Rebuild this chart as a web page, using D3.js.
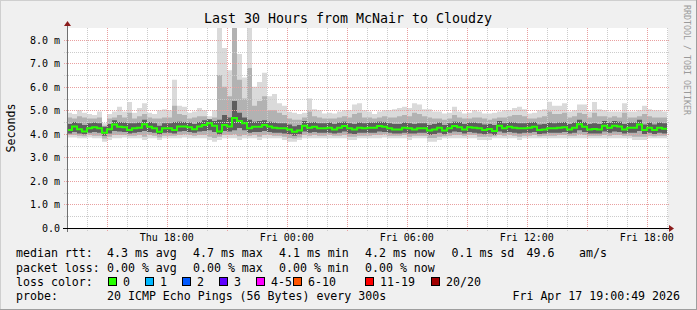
<!DOCTYPE html>
<html>
<head>
<meta charset="utf-8">
<script src="https://cdn.jsdelivr.net/npm/d3@7"></script>
<style>
  body { margin: 0; background: #f0f0f0; }
  svg text { font-family: "DejaVu Sans Mono", monospace; fill: #000; }
</style>
</head>
<body>
<div id="chart"></div>
<script>
// Time window of the graph (30 hours, one sample every 15 minutes below)
const startTime = new Date(2026, 3, 16, 13, 0, 49);
const endTime = new Date(2026, 3, 17, 19, 0, 49);
const stepMinutes = 15;

// Round trip times in ms
const median = [
  4.17,4.31,4.20,4.10,4.24,4.28,4.24,4.05,4.20,4.40,
  4.30,4.28,4.17,4.24,4.26,4.41,4.30,4.24,4.09,4.24,
  4.24,4.17,4.31,4.31,4.28,4.20,4.31,4.38,4.45,4.35,
  4.10,4.38,4.31,4.68,4.55,4.45,4.24,4.30,4.30,4.38,
  4.31,4.26,4.24,4.24,4.19,4.09,4.14,4.35,4.26,4.30,
  4.24,4.24,4.26,4.19,4.26,4.33,4.24,4.19,4.26,4.24,
  4.26,4.26,4.33,4.30,4.24,4.19,4.19,4.26,4.24,4.19,
  4.24,4.24,4.14,4.19,4.26,4.14,4.24,4.33,4.28,4.19,
  4.28,4.26,4.24,4.17,4.21,4.12,4.35,4.24,4.30,4.26,
  4.24,4.24,4.26,4.30,4.17,4.19,4.24,4.24,4.26,4.28,
  4.19,4.26,4.41,4.30,4.19,4.21,4.19,4.35,4.26,4.35,
  4.31,4.19,4.26,4.26,4.40,4.17,4.26,4.17,4.26,4.22];

// slowest ping of each sample
const pingMax = [
  4.90,4.85,5.00,4.90,4.85,4.80,4.95,4.45,4.85,4.95,
  5.15,4.95,5.35,4.90,5.10,5.30,4.90,4.85,5.00,5.05,
  5.00,6.30,5.20,5.15,4.90,4.95,5.10,5.00,4.75,5.00,
  8.60,7.65,6.70,8.60,7.40,6.40,8.60,6.00,6.20,6.60,
  5.60,5.70,5.30,5.20,4.94,4.90,4.85,4.90,5.50,5.05,
  5.00,4.87,4.90,4.87,4.95,5.00,5.00,5.25,5.30,5.00,
  4.95,4.85,4.95,5.00,5.00,5.05,5.10,5.15,5.10,5.30,
  5.25,5.05,5.05,4.95,4.95,4.87,4.90,5.15,4.95,4.87,
  4.90,5.00,4.95,4.87,4.87,4.90,4.95,5.00,5.00,5.10,
  5.15,5.05,4.87,4.90,5.00,5.05,5.37,5.20,5.20,5.30,
  4.95,5.00,5.25,5.25,4.95,5.35,5.05,5.00,4.95,4.95,
  4.95,5.30,4.95,4.95,5.00,5.20,5.05,5.00,5.00,4.95];

// fastest ping of each sample
const pingMin = [
  3.85,3.85,3.81,3.81,3.85,3.81,3.81,3.67,3.74,3.81,
  3.81,3.85,3.81,3.81,3.81,3.74,3.81,3.81,3.74,3.81,
  3.81,3.81,3.81,3.85,3.81,3.81,3.81,3.81,3.74,3.67,
  3.74,3.81,3.81,3.81,3.74,3.81,3.81,3.81,3.74,3.81,
  3.81,3.81,3.81,3.74,3.67,3.67,3.74,3.81,3.81,3.81,
  3.81,3.81,3.81,3.81,3.81,3.81,3.74,3.74,3.81,3.81,
  3.81,3.81,3.81,3.85,3.81,3.81,3.81,3.81,3.74,3.81,
  3.81,3.81,3.67,3.67,3.74,3.81,3.81,3.81,3.81,3.81,
  3.81,3.81,3.74,3.74,3.74,3.81,3.81,3.81,3.81,3.81,
  3.74,3.81,3.81,3.81,3.81,3.81,3.81,3.81,3.81,3.81,
  3.81,3.81,3.81,3.81,3.81,3.81,3.81,3.81,3.81,3.81,
  3.81,3.81,3.81,3.74,3.74,3.74,3.81,3.81,3.81,3.81];

// edges of the medium grey smoke
const midHigh = [
  4.70,4.65,4.75,4.70,4.65,4.65,4.70,4.35,4.65,4.70,
  4.80,4.70,4.90,4.65,4.75,4.85,4.70,4.65,4.65,4.70,
  4.70,5.20,4.85,4.80,4.65,4.70,4.75,4.75,4.60,4.70,
  6.50,6.00,5.60,8.60,6.30,5.50,6.80,5.20,5.40,5.60,
  5.00,5.00,4.90,4.80,4.65,4.60,4.60,4.70,4.95,4.75,
  4.70,4.65,4.65,4.65,4.70,4.75,4.70,4.85,4.90,4.70,
  4.70,4.65,4.70,4.75,4.70,4.70,4.75,4.80,4.75,4.90,
  4.85,4.75,4.70,4.65,4.65,4.60,4.65,4.80,4.70,4.65,
  4.65,4.70,4.70,4.65,4.60,4.65,4.70,4.70,4.75,4.80,
  4.80,4.75,4.65,4.65,4.70,4.75,4.95,4.85,4.85,4.90,
  4.70,4.75,4.90,4.85,4.70,4.90,4.75,4.75,4.70,4.75,
  4.70,4.90,4.70,4.70,4.75,4.85,4.75,4.70,4.70,4.70];

const midLow = [
  3.95,3.95,3.92,3.90,3.95,3.92,3.92,3.80,3.88,3.95,
  3.95,3.95,3.92,3.92,3.95,3.88,3.95,3.92,3.85,3.92,
  3.92,3.92,3.95,3.98,3.95,3.92,3.95,3.95,3.88,3.82,
  3.88,3.95,3.95,3.98,3.90,3.95,3.92,3.95,3.88,3.95,
  3.95,3.92,3.92,3.88,3.82,3.80,3.85,3.95,3.92,3.95,
  3.92,3.92,3.95,3.92,3.92,3.95,3.88,3.88,3.92,3.92,
  3.92,3.95,3.95,3.98,3.92,3.92,3.92,3.95,3.88,3.92,
  3.92,3.92,3.82,3.82,3.88,3.90,3.92,3.95,3.95,3.92,
  3.95,3.95,3.88,3.88,3.88,3.90,3.95,3.92,3.95,3.92,
  3.88,3.92,3.92,3.95,3.90,3.92,3.92,3.92,3.95,3.95,
  3.92,3.92,3.98,3.95,3.92,3.92,3.92,3.95,3.92,3.95,
  3.95,3.92,3.92,3.88,3.88,3.88,3.92,3.90,3.92,3.92];

// edges of the dark core of the smoke
const coreHigh = [
  4.42,4.50,4.45,4.38,4.45,4.48,4.45,4.30,4.42,4.58,
  4.50,4.48,4.45,4.45,4.48,4.60,4.50,4.45,4.35,4.45,
  4.45,4.50,4.52,4.50,4.48,4.42,4.50,4.58,4.62,4.55,
  4.60,4.80,4.70,5.40,4.90,4.70,4.60,4.52,4.55,4.58,
  4.52,4.48,4.45,4.45,4.40,4.32,4.38,4.55,4.48,4.50,
  4.45,4.45,4.48,4.42,4.48,4.52,4.45,4.42,4.48,4.45,
  4.48,4.48,4.52,4.50,4.45,4.42,4.42,4.48,4.45,4.42,
  4.45,4.45,4.38,4.42,4.48,4.38,4.45,4.52,4.50,4.42,
  4.48,4.48,4.45,4.40,4.42,4.38,4.55,4.45,4.50,4.48,
  4.45,4.45,4.48,4.50,4.40,4.42,4.48,4.45,4.48,4.50,
  4.42,4.48,4.60,4.50,4.42,4.45,4.42,4.55,4.48,4.55,
  4.52,4.42,4.48,4.48,4.60,4.40,4.48,4.40,4.48,4.45];

const coreLow = [
  4.02,4.08,4.02,3.98,4.05,4.08,4.05,3.92,4.02,4.12,
  4.10,4.08,4.02,4.05,4.08,4.12,4.08,4.05,3.98,4.05,
  4.05,4.02,4.10,4.12,4.08,4.05,4.10,4.12,4.15,4.08,
  3.98,4.12,4.10,4.15,4.25,4.15,4.05,4.08,4.08,4.12,
  4.08,4.05,4.05,4.02,3.98,3.92,3.98,4.10,4.05,4.08,
  4.05,4.05,4.05,4.02,4.05,4.10,4.02,4.00,4.05,4.05,
  4.05,4.05,4.10,4.08,4.05,4.02,4.02,4.05,4.02,4.02,
  4.05,4.05,3.95,4.00,4.05,3.98,4.05,4.10,4.08,4.02,
  4.08,4.05,4.02,3.98,4.02,3.95,4.10,4.05,4.08,4.05,
  4.02,4.05,4.05,4.08,4.00,4.02,4.05,4.05,4.05,4.08,
  4.02,4.05,4.15,4.08,4.02,4.02,4.02,4.10,4.05,4.10,
  4.08,4.02,4.05,4.05,4.12,4.00,4.05,4.00,4.05,4.02];

const yTickValues = [0, 1, 2, 3, 4, 5, 6, 7, 8];
const yTickLabels = ["0.0", "1.0 m", "2.0 m", "3.0 m", "4.0 m", "5.0 m", "6.0 m", "7.0 m", "8.0 m"];

// legend rows: [label, x] pairs
const rttLegend = [["median rtt:", 16], ["4.3 ms avg", 107], ["4.7 ms max", 193], ["4.1 ms min", 279],
                   ["4.2 ms now", 365], ["0.1 ms sd", 451.5], ["49.6", 526.5], ["am/s", 579]];
const lossLegend = [["packet loss:", 16], ["0.00 % avg", 107], ["0.00 % max", 193], ["0.00 % min", 279],
                    ["0.00 % now", 365]];
const lossLabels = ["0", "1", "2", "3", "4-5", "6-10", "11-19", "20/20"];
const lossColors = ["#26ff00", "#00b8ff", "#0059ff", "#5e00ff", "#ff00ff", "#ff5500", "#ff0000", "#a10000"];
const lossLabelX = [123, 160, 197, 234, 271, 308, 380, 446];

const W = 697, H = 310;
const plot = {left: 67, right: 667, top: 28, bottom: 228};

let svg = d3.select("#chart").append("svg")
    .attr("width", W)
    .attr("height", H);

// background and 3d-ish border
svg.append("rect").attr("width", W).attr("height", H).attr("fill", "#f0f0f0");
svg.append("path").attr("d", `M0,${H} V0 H${W}`).attr("stroke", "#cfcfcf").attr("stroke-width", 2).attr("fill", "none");
svg.append("path").attr("d", `M${W},0 V${H} H0`).attr("stroke", "#9e9e9e").attr("stroke-width", 2).attr("fill", "none");

svg.append("rect")
    .attr("x", plot.left).attr("y", plot.top)
    .attr("width", plot.right - plot.left + 1).attr("height", plot.bottom - plot.top)
    .attr("fill", "#fff");

let x = d3.scaleTime().domain([startTime, endTime]).range([plot.left, plot.right]);
let y = d3.scaleLinear().domain([0, 8.5]).range([plot.bottom, plot.top]);

// rows for the step areas, with a closing point at the end time
let rows = median.map((m, i) => ({
    t: d3.timeMinute.offset(startTime, i * stepMinutes),
    med: m, lo: pingMin[i], hi: pingMax[i],
    lo2: midLow[i], hi2: midHigh[i], lo3: coreLow[i], hi3: coreHigh[i]
}));
rows.push(Object.assign({}, rows[rows.length - 1], {t: endTime}));

svg.append("clipPath").attr("id", "clip")
    .append("rect")
    .attr("x", plot.left).attr("y", plot.top)
    .attr("width", plot.right - plot.left).attr("height", plot.bottom - plot.top);

let smoke = svg.append("g").attr("clip-path", "url(#clip)");

function band(loKey, hiKey, color) {
    let area = d3.area()
        .curve(d3.curveStepAfter)
        .x(d => x(d.t))
        .y0(d => y(d[loKey]))
        .y1(d => y(Math.min(d[hiKey], 8.6)));
    smoke.append("path").datum(rows).attr("d", area).attr("fill", color);
}

band("lo", "hi", "#dadada");
band("lo2", "hi2", "#b2b2b2");
band("lo3", "hi3", "#5e5e5e");

// grid, drawn on top of the smoke like rrdtool does
let grid = svg.append("g").attr("stroke-dasharray", "1,1").attr("stroke-width", 1);

d3.timeHour.range(d3.timeHour.ceil(startTime), endTime).forEach(t => {
    let major = t.getHours() % 3 === 0;
    grid.append("line")
        .attr("x1", Math.round(x(t)) + 0.5).attr("x2", Math.round(x(t)) + 0.5)
        .attr("y1", plot.top).attr("y2", plot.bottom + 3)
        .attr("stroke", major ? "#e9a0a0" : "#cccccc");
});

d3.range(1, 17).map(k => k / 2).forEach(v => {
    let major = v % 1 === 0;
    grid.append("line")
        .attr("x1", plot.left - 3).attr("x2", plot.right + 3)
        .attr("y1", Math.round(y(v)) + 0.5).attr("y2", Math.round(y(v)) + 0.5)
        .attr("stroke", major ? "#e9a0a0" : "#cccccc");
});

// median line
let medLine = d3.line()
    .curve(d3.curveStepAfter)
    .x(d => x(d.t))
    .y(d => y(d.med));
svg.append("path").datum(rows)
    .attr("d", medLine)
    .attr("fill", "none")
    .attr("stroke", lossColors[0])
    .attr("stroke-width", 2);

// axes
svg.append("line")
    .attr("x1", plot.left + 0.5).attr("x2", plot.left + 0.5)
    .attr("y1", plot.bottom + 4).attr("y2", plot.top - 3)
    .attr("stroke", "#707070");
svg.append("line")
    .attr("x1", plot.left - 4).attr("x2", plot.right + 3)
    .attr("y1", y(0) + 0.5).attr("y2", y(0) + 0.5)
    .attr("stroke", "#000");
svg.append("path")
    .attr("d", `M${plot.left - 3},${plot.top - 2} L${plot.left + 0.5},${plot.top - 7} L${plot.left + 4},${plot.top - 2} Z`)
    .attr("fill", "#8b1c1c");
svg.append("path")
    .attr("d", `M${plot.right + 2},${plot.bottom - 3} L${plot.right + 7},${plot.bottom + 0.5} L${plot.right + 2},${plot.bottom + 4} Z`)
    .attr("fill", "#8b1c1c");

// y labels
svg.append("g").selectAll("text")
    .data(yTickValues)
    .enter()
    .append("text")
        .attr("x", 60)
        .attr("y", d => y(d) + 4)
        .attr("text-anchor", "end")
        .attr("font-size", "10px")
        .text((d, i) => yTickLabels[i]);

// x labels every 6 hours
svg.append("g").selectAll("text")
    .data(x.ticks(d3.timeHour.every(6)))
    .enter()
    .append("text")
        .attr("x", d => x(d))
        .attr("y", 241)
        .attr("text-anchor", "middle")
        .attr("font-size", "10px")
        .text(d3.timeFormat("%a %H:%M"));

// title, axis title, watermark
svg.append("text")
    .attr("x", 348).attr("y", 23)
    .attr("text-anchor", "middle")
    .attr("font-size", "13.3px")
    .text("Last 30 Hours from McNair to Cloudzy");

svg.append("text")
    .attr("transform", "translate(15,128) rotate(-90)")
    .attr("text-anchor", "middle")
    .attr("font-size", "11.6px")
    .text("Seconds");

svg.append("text")
    .attr("transform", "translate(684,5) rotate(90)")
    .attr("font-size", "8.3px")
    .style("fill", "#9a9a9a")
    .text("RRDTOOL / TOBI OETIKER");

// legend
let legend = svg.append("g").attr("font-size", "11.6px");

function legendRow(items, baseline) {
    items.forEach(d => {
        legend.append("text").attr("x", d[1]).attr("y", baseline).attr("xml:space", "preserve").text(d[0]);
    });
}

legendRow(rttLegend, 257);
legendRow(lossLegend, 271.5);
legendRow([["loss color:", 16]], 286);
legendRow([["probe:", 16], ["20 ICMP Echo Pings (56 Bytes) every 300s", 107]], 300);
legend.append("text")
    .attr("x", 680).attr("y", 300)
    .attr("text-anchor", "end")
    .text("Fri Apr 17 19:00:49 2026");

lossLabels.forEach((label, i) => {
    legend.append("rect")
        .attr("x", lossLabelX[i] - 14.5).attr("y", 277.5)
        .attr("width", 8).attr("height", 8)
        .attr("fill", lossColors[i])
        .attr("stroke", "#000");
    legend.append("text")
        .attr("x", lossLabelX[i]).attr("y", 286)
        .text(label);
});
</script>
</body>
</html>
